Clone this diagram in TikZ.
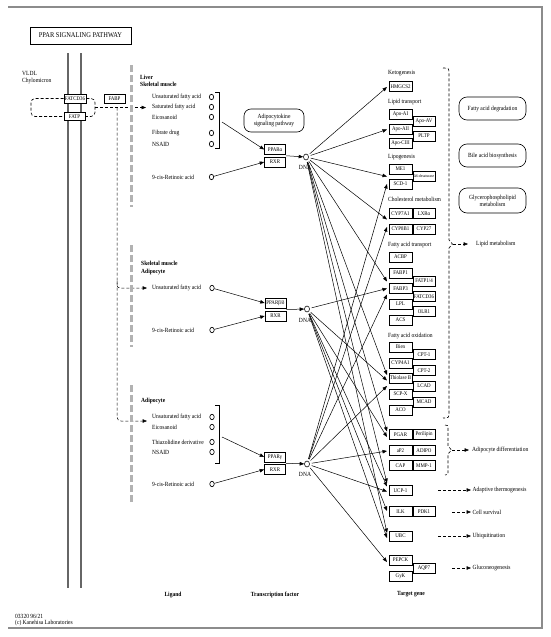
\documentclass[tikz,border=0pt]{standalone}
\usepackage{fontspec}
\setmainfont{Liberation Serif}[FakeStretch=0.88]
\usetikzlibrary{arrows.meta,calc,shapes.geometric}
\begin{document}
\begin{tikzpicture}[x=1pt,y=-1pt,
  txt/.style={font=\fontsize{6.3}{7}\selectfont, inner sep=0pt, anchor=west},
  btxt/.style={font=\fontsize{6.3}{7}\selectfont\bfseries, inner sep=0pt, anchor=west},
  hdr/.style={font=\fontsize{6.3}{7}\selectfont\bfseries, inner sep=0pt},
  gbox/.style={draw, line width=0.65pt, minimum width=23pt, minimum height=10pt, inner sep=0pt, font=\fontsize{5.6}{6}\selectfont},
  gboxr/.style={gbox, minimum width=22pt},
  tfbox/.style={gbox, minimum width=21pt},
  lig/.style={draw, ellipse, line width=0.6pt, minimum width=4.4pt, minimum height=5.4pt, inner sep=0pt},
  dnac/.style={draw, ellipse, line width=0.6pt, minimum width=5pt, minimum height=6pt, inner sep=0pt},
  arr/.style={-{Triangle[length=4.5pt,width=3.5pt]}, line width=0.5pt},
  tarr/.style={arr, shorten <=2pt},
  dsh/.style={dash pattern=on 3pt off 2pt, line width=0.6pt},
  memb/.style={draw=black!60, line width=1.4pt},
  gdsh/.style={draw=black!30, line width=3pt, dash pattern=on 7pt off 3pt},
  rbox/.style={draw, rounded corners=8pt, line width=0.6pt, align=center, inner sep=0pt, font=\fontsize{6.3}{7}\selectfont},
]
\useasboundingbox (0,0) rectangle (550,637);
% frame
\draw[black!45, line width=1.2pt] (8,7) -- (542,7) -- (542,628) -- (8,628);
% title
\node[draw, line width=0.7pt, minimum width=101pt, minimum height=17pt, inner sep=0pt, font=\fontsize{7.3}{8}\selectfont] (title) at (80.5,35.5) {PPAR SIGNALING PATHWAY};
% membrane
\draw[memb] (68,53) -- (68,588);
\draw[memb] (81,53) -- (81,588);
\node[txt] (vldl) at (22,73) {VLDL};
\node[txt] (chylo) at (22,81) {Chylomicron};
\node[gbox, minimum width=22pt, minimum height=9pt, fill=white] (fatcd) at (75,98.5) {FATCD36};
\node[gbox, minimum width=21pt, minimum height=8.5pt, fill=white] (fatp) at (74.5,116.5) {FATP};
\node[gbox, minimum width=21pt, minimum height=9pt] (fabp) at (114.5,98.5) {FABP};
\draw[dsh, rounded corners=4pt] (fatcd.west) -- (31,98.5) -- (31,116.5) -- (fatp.west);
\draw[dsh, rounded corners=4pt] (fatcd.east) -- (95,98.5) -- (95,116.5) -- (fatp.east);
\coordinate (jn) at (95,107.5);
\coordinate (l1tip) at (146,107.5);
\draw[dsh, arr] (jn) -- (l1tip);
\coordinate (vtop) at (117,107.5);
\coordinate (vmid) at (117,281);
\coordinate (l2tip) at (147,288);
\coordinate (l3tip) at (147,421);
\draw[dsh, arr, rounded corners=4pt] (vtop) |- (l3tip);
\draw[dsh, arr, rounded corners=3pt] (vmid) |- (l2tip);
% gray dashed separators
\draw[gdsh] (131,65) -- (131,207);
\draw[gdsh] (131,245) -- (131,347);
\draw[gdsh] (131,385) -- (131,505);

% ---------- group 1: PPAR alpha
\node[btxt] (liv) at (140,77) {Liver};
\node[btxt] (skm1) at (140,84.5) {Skeletal muscle};
\node[txt] (a1) at (152,97) {Unsaturated fatty acid};
\node[txt] (a2) at (152,107) {Saturated fatty acid};
\node[txt] (a3) at (152,117) {Eicosanoid};
\node[txt] (a4) at (152,133) {Fibrate drug};
\node[txt] (a5) at (152,144) {NSAID};
\node[txt] (a6) at (152,177) {9-cis-Retinoic acid};
\node[lig] (ca1) at (211.5,97) {};
\node[lig] (ca2) at (211.5,107) {};
\node[lig] (ca3) at (211.5,117) {};
\node[lig] (ca4) at (211.5,133) {};
\node[lig] (ca5) at (211.5,144) {};
\node[lig] (ca6) at (211.5,177) {};
\draw[line width=0.6pt] (215,92) -- (219,92) -- (219,148) -- (215,148);
\node[tfbox] (ppara) at (275,149.5) {PPARα};
\node[tfbox] (rxr1) at (275,162) {RXR};
\coordinate (br1) at (222,122);
\draw[arr] (br1) -- (ppara.west);
\draw[arr] (ca6) -- (rxr1.west);
\node[dnac] (dna1) at (306,157) {};
\node[txt, anchor=center] (dnal1) at (305,167) {DNA};
\coordinate (tf1) at ($(ppara.south east)!0.5!(rxr1.north east)$);
\draw[arr] (tf1) -- (dna1);
\node[rbox, minimum width=60pt, minimum height=23pt, rounded corners=7pt] (adck) at (274,120.5) {Adipocytokine\\signaling pathway};

% ---------- group 2: PPAR beta/delta
\node[btxt] (skm2) at (141,263) {Skeletal muscle};
\node[btxt] (adi2) at (141,271.5) {Adipocyte};
\node[txt] (b1) at (152,288) {Unsaturated fatty acid};
\node[txt] (b2) at (152,330) {9-cis-Retinoic acid};
\node[lig] (cb1) at (212,288) {};
\node[lig] (cb2) at (212,330) {};
\node[tfbox] (ppard) at (275.5,303) {PPARβ/δ};
\node[tfbox] (rxr2) at (275.5,316) {RXR};
\draw[arr] (cb1) -- (ppard.west);
\draw[arr] (cb2) -- (rxr2.west);
\node[dnac] (dna2) at (307,309) {};
\node[txt, anchor=center] (dnal2) at (305,320) {DNA};
\coordinate (tf2) at ($(ppard.south east)!0.5!(rxr2.north east)$);
\draw[arr] (tf2) -- (dna2);

% ---------- group 3: PPAR gamma
\node[btxt] (adi3) at (141,401) {Adipocyte};
\node[txt] (c1) at (152,417) {Unsaturated fatty acid};
\node[txt] (c2) at (152,427) {Eicosanoid};
\node[txt] (c3) at (152,442) {Thiazolidine derivative};
\node[txt] (c4) at (152,452) {NSAID};
\node[txt] (c5) at (152,484) {9-cis-Retinoic acid};
\node[lig] (cc1) at (212,417) {};
\node[lig] (cc2) at (212,427) {};
\node[lig] (cc3) at (212,442) {};
\node[lig] (cc4) at (212,452) {};
\node[lig] (cc5) at (212,484) {};
\draw[line width=0.6pt] (215,405) -- (219,405) -- (219,463) -- (215,463);
\node[tfbox] (pparg) at (275,457) {PPARγ};
\node[tfbox] (rxr3) at (275,469.5) {RXR};
\coordinate (br3) at (222,437);
\draw[arr] (br3) -- (pparg.west);
\draw[arr] (cc5) -- (rxr3.west);
\node[dnac] (dna3) at (307,464) {};
\node[txt, anchor=center] (dnal3) at (305,474) {DNA};
\coordinate (tf3) at ($(pparg.south east)!0.5!(rxr3.north east)$);
\draw[arr] (tf3) -- (dna3);

% ---------- target genes
\node[txt] (kg) at (388,73) {Ketogenesis};
\node[txt] (lt) at (388,102) {Lipid transport};
\node[txt] (lg) at (388,157) {Lipogenesis};
\node[txt] (cm) at (388,199) {Cholesterol metabolism};
\node[txt] (ft) at (388,245) {Fatty acid transport};
\node[txt] (fo) at (388,336) {Fatty acid oxidation};

\node[gbox] (hmg) at (400.5,86.5) {HMGCS2};
\node[gbox] (apoa1) at (400.5,114) {Apo-AI};
\node[gbox] (apoa2) at (400.5,129.5) {Apo-AII};
\node[gbox] (apoc3) at (400.5,143) {Apo-CIII};
\node[gboxr] (apoa5) at (424,121.5) {Apo-AV};
\node[gboxr] (pltp) at (424,136) {PLTP};
\node[gbox] (me1) at (400.5,169) {ME1};
\node[gbox] (scd) at (400.5,184) {SCD-1};
\node[gboxr, font=\fontsize{4.1}{5}\selectfont] (d6) at (424,176.5) {Δ6-desaturase};
\node[gbox] (cyp7) at (400.5,213.5) {CYP7A1};
\node[gboxr] (lxr) at (424,213.5) {LXRα};
\node[gbox] (cyp8) at (400.5,229) {CYP8B1};
\node[gboxr] (cyp27) at (424,229) {CYP27};
\node[gbox] (acbp) at (400.5,257) {ACBP};
\node[gbox] (fabp1) at (400.5,273) {FABP1};
\node[gbox] (fabp3) at (400.5,288.5) {FABP3};
\node[gbox] (lpl) at (400.5,304) {LPL};
\node[gbox] (acs) at (400.5,320) {ACS};
\node[gboxr] (fatp14) at (424,281) {FATP1/4};
\node[gboxr] (fatcd2) at (424,296.5) {FATCD36};
\node[gboxr] (olr1) at (424,311.5) {OLR1};
\node[gbox] (bien) at (400.5,347) {Bien};
\node[gbox] (cyp4) at (400.5,363) {CYP4A1};
\node[gbox] (thiob) at (400.5,378) {Thiolase B};
\node[gbox] (scpx) at (400.5,394) {SCP-X};
\node[gbox] (aco) at (400.5,410) {ACO};
\node[gboxr] (cpt1) at (424,354.5) {CPT-1};
\node[gboxr] (cpt2) at (424,370.5) {CPT-2};
\node[gboxr] (lcad) at (424,386) {LCAD};
\node[gboxr] (mcad) at (424,402) {MCAD};
\node[gbox] (pgar) at (400.5,434.5) {PGAR};
\node[gboxr] (peri) at (424,434.5) {Perilipin};
\node[gbox] (ap2) at (400.5,450.5) {aP2};
\node[gboxr] (adipo) at (424,450.5) {ADIPO};
\node[gbox] (cap) at (400.5,465.5) {CAP};
\node[gboxr] (mmp1) at (424,465.5) {MMP-1};
\node[gbox] (ucp1) at (400.5,490.5) {UCP-1};
\node[gbox] (ilk) at (400.5,511.5) {ILK};
\node[gboxr] (pdk1) at (424,511.5) {PDK1};
\node[gbox] (ubc) at (400.5,536) {UBC};
\node[gbox] (pepck) at (400.5,560) {PEPCK};
\node[gbox] (gyk) at (400.5,576) {GyK};
\node[gboxr] (aqp7) at (424,568.5) {AQP7};

% arrow end points
\coordinate (t1a) at (387,87);
\coordinate (t1b) at (387,129.5);
\coordinate (t1c) at (387,176.5);
\coordinate (t1d) at (387,219.5);
\coordinate (t1e) at (387,281.5);
\coordinate (t1f) at (387,375);
\coordinate (t1g) at (387,431.5);
\coordinate (t1h) at (387,483);
\coordinate (t1i) at (387,533);
\coordinate (t2a) at (387,288.5);
\coordinate (t2b) at (387,380.5);
\coordinate (t2c) at (387,437);
\coordinate (t2d) at (387,486.5);
\coordinate (t2e) at (387,511);
\coordinate (t2f) at (387,538);
\coordinate (t3a) at (387,184);
\coordinate (t3b) at (387,227);
\coordinate (t3c) at (387,294.5);
\coordinate (t3d) at (387,386);
\coordinate (t3e) at (387,451);
\coordinate (t3f) at (387,491.5);
\coordinate (t3g) at (387,562);
\foreach \t in {t1a,t1b,t1c,t1d,t1e,t1f,t1g,t1h,t1i}{\draw[tarr] (dna1) -- (\t);}
\foreach \t in {t2a,t2b,t2c,t2d,t2e,t2f}{\draw[tarr] (dna2) -- (\t);}
\foreach \t in {t3a,t3b,t3c,t3d,t3e,t3f,t3g}{\draw[tarr] (dna3) -- (\t);}

% right-hand side
\node[rbox, minimum width=67pt, minimum height=23pt] (fad) at (492.5,108.5) {Fatty acid degradation};
\node[rbox, minimum width=67pt, minimum height=23pt] (bab) at (492.5,155.5) {Bile acid biosynthesis};
\node[rbox, minimum width=67pt, minimum height=25pt] (gpl) at (492.5,200.5) {Glycerophospholipid\\metabolism};

\draw[dsh] (443,68) .. controls (449,68) .. (449,74) -- (449,240) -- (452.5,244) -- (449,248) -- (449,412) .. controls (449,418) .. (443,418);
\draw[dsh] (445,425) .. controls (448,425) .. (448,430) -- (448,446) -- (451.5,450) -- (448,454) -- (448,470) .. controls (448,475) .. (445,475);

\node[txt] (lipm) at (476,244) {Lipid metabolism};
\node[txt] (adid) at (472,450) {Adipocyte differentiation};
\node[txt] (adth) at (472.5,490) {Adaptive thermogenesis};
\node[txt] (cels) at (472.5,512) {Cell survival};
\node[txt] (ubiq) at (472.5,536) {Ubiquitination};
\node[txt] (glun) at (472.5,568) {Gluconeogenesis};
\coordinate (s1) at (453,244);
\coordinate (s2) at (452,450);
\coordinate (s3) at (438,490);
\coordinate (s4) at (452,512);
\coordinate (s5) at (438,536);
\coordinate (s6) at (452,568);
\draw[dsh, arr] (s1) -- ([xshift=-8pt]lipm.west);
\draw[dsh, arr] (s2) -- ([xshift=-3pt]adid.west);
\draw[dsh, arr] (s3) -- ([xshift=-1.5pt]adth.west);
\draw[dsh, arr] (s4) -- ([xshift=-1.5pt]cels.west);
\draw[dsh, arr] (s5) -- ([xshift=-1.5pt]ubiq.west);
\draw[dsh, arr] (s6) -- ([xshift=-1.5pt]glun.west);

% column headers and footer
\node[hdr] (hl) at (173,595) {Ligand};
\node[hdr] (htf) at (275,595) {Transcription factor};
\node[hdr] (htg) at (411,594) {Target gene};
\node[txt] (code) at (15,616) {03320 96/21};
\node[txt] (copy) at (15,623) {(c) Kanehisa Laboratories};
\end{tikzpicture}
\end{document}
